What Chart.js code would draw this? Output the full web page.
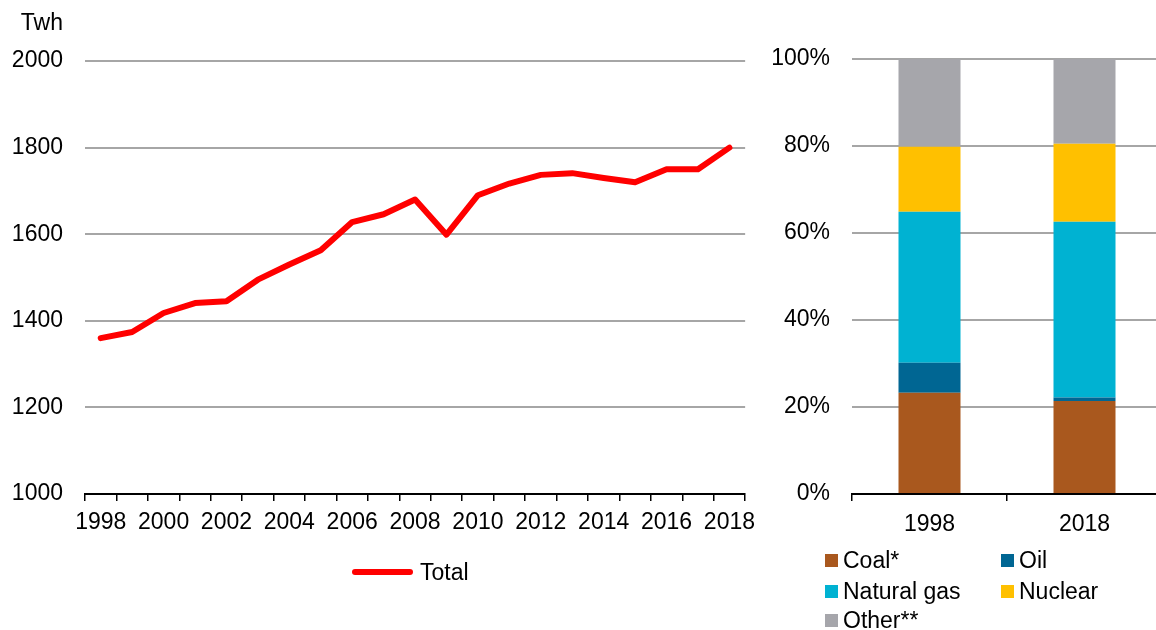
<!DOCTYPE html>
<html>
<head>
<meta charset="utf-8">
<script src="https://cdn.jsdelivr.net/npm/chart.js@4/dist/chart.umd.min.js"></script>
<style>
  html, body { margin: 0; padding: 0; background: #fff; width: 1156px; height: 630px; overflow: hidden; }
  body { position: relative; font-family: "Liberation Sans", Arial, sans-serif; color: #000; }
  #lineWrap { position: absolute; left: 0; top: 0; width: 763px; height: 630px; }
  #barWrap { position: absolute; left: 760px; top: 0; width: 402px; height: 630px; }
  .leg { position: absolute; display: flex; align-items: center; height: 30px; font-size: 23px; white-space: nowrap; }
  .leg .sw { width: 13px; height: 13px; margin-right: 5px; flex: none; }
  .leg .ln { width: 61px; height: 6px; border-radius: 3px; background: #ff0000; margin-right: 7px; flex: none; }
</style>
</head>
<body>
<div id="lineWrap"><canvas id="lineChart" width="763" height="630"></canvas></div>
<div id="barWrap"><canvas id="barChart" width="402" height="630"></canvas></div>

<div class="leg" style="left:352px; top:557px;"><span class="ln"></span>Total</div>

<div class="leg" style="left:825px; top:545px;"><span class="sw" style="background:#A9581E"></span>Coal*</div>
<div class="leg" style="left:1001px; top:545px;"><span class="sw" style="background:#006693"></span>Oil</div>
<div class="leg" style="left:825px; top:576px;"><span class="sw" style="background:#00B2D2"></span>Natural gas</div>
<div class="leg" style="left:1001px; top:576px;"><span class="sw" style="background:#FFC000"></span>Nuclear</div>
<div class="leg" style="left:825px; top:605px;"><span class="sw" style="background:#A6A6AB"></span>Other**</div>

<script>
// Electricity generation, total (TWh)
const years = ['1998','1999','2000','2001','2002','2003','2004','2005','2006','2007','2008',
               '2009','2010','2011','2012','2013','2014','2015','2016','2017','2018'];
const total = [1360, 1374, 1418, 1441, 1445, 1495, 1530, 1563, 1628, 1646, 1680,
               1599, 1690, 1717, 1737, 1741, 1730, 1720, 1750, 1750, 1800];

// Generation mix by source (% share)
const mixYears = ['1998', '2018'];
const coal    = [23.3, 21.4];
const oil     = [6.9, 0.8];
const gas     = [34.7, 40.4];
const nuclear = [14.9, 17.9];
const other   = [20.2, 19.5];

const FONT = { family: '"Liberation Sans", Arial, sans-serif', size: 23 };
const GRID = '#A6A6A6';

Chart.defaults.font.family = FONT.family;
Chart.defaults.font.size = FONT.size;
Chart.defaults.color = '#000';

// unit label above the value axis
const unitLabel = {
  id: 'unitLabel',
  afterDraw(chart) {
    const ctx = chart.ctx;
    ctx.save();
    ctx.font = FONT.size + 'px ' + FONT.family;
    ctx.fillStyle = '#000';
    ctx.textAlign = 'right';
    ctx.textBaseline = 'middle';
    ctx.fillText('Twh', 63, 24);
    ctx.restore();
  }
};

new Chart(document.getElementById('lineChart'), {
  type: 'line',
  data: {
    labels: years,
    datasets: [{
      label: 'Total',
      data: total,
      borderColor: '#FF0000',
      backgroundColor: '#FF0000',
      borderWidth: 6,
      borderCapStyle: 'round',
      borderJoinStyle: 'round',
      pointRadius: 0,
      tension: 0
    }]
  },
  options: {
    responsive: false,
    animation: false,
    layout: { padding: { left: 0, right: 0, top: 61, bottom: 86 } },
    plugins: { legend: { display: false }, tooltip: { enabled: false } },
    scales: {
      x: {
        offset: true,
        grid: { offset: true, drawOnChartArea: false, tickLength: 7, color: '#000', lineWidth: 1.5 },
        border: { color: '#000', width: 2 },
        ticks: {
          autoSkip: false, maxRotation: 0, padding: 8,
          callback(v, i) { return i % 2 === 0 ? this.getLabelForValue(v) : ''; }
        },
        afterFit(s) { s.height = 50; }
      },
      y: {
        min: 1000, max: 2000,
        ticks: { stepSize: 200, padding: 22, callback: v => String(v) },
        grid: { color: GRID, lineWidth: 2, drawTicks: false },
        border: { display: false },
        afterFit(s) { s.width = 85; }
      }
    }
  },
  plugins: [unitLabel]
});

const bar = (label, data, color) => ({ label, data, backgroundColor: color, borderWidth: 0,
  barPercentage: 0.4, categoryPercentage: 1 });

new Chart(document.getElementById('barChart'), {
  type: 'bar',
  data: {
    labels: mixYears,
    datasets: [
      bar('Coal*', coal, '#A9581E'),
      bar('Oil', oil, '#006693'),
      bar('Natural gas', gas, '#00B2D2'),
      bar('Nuclear', nuclear, '#FFC000'),
      bar('Other**', other, '#A6A6AB')
    ]
  },
  options: {
    responsive: false,
    animation: false,
    layout: { padding: { left: 0, right: 0, top: 59, bottom: 86 } },
    plugins: { legend: { display: false }, tooltip: { enabled: false } },
    scales: {
      x: {
        stacked: true,
        grid: { offset: true, drawOnChartArea: false, tickLength: 7, color: '#000', lineWidth: 1.5 },
        border: { color: '#000', width: 2 },
        ticks: { maxRotation: 0, padding: 10 },
        afterFit(s) { s.height = 50; }
      },
      y: {
        stacked: true,
        min: 0, max: 100,
        ticks: { stepSize: 20, padding: 22, callback: v => v + '%' },
        grid: { color: GRID, lineWidth: 2, drawTicks: false },
        border: { display: false },
        afterFit(s) { s.width = 92; }
      }
    }
  }
});
</script>
</body>
</html>
